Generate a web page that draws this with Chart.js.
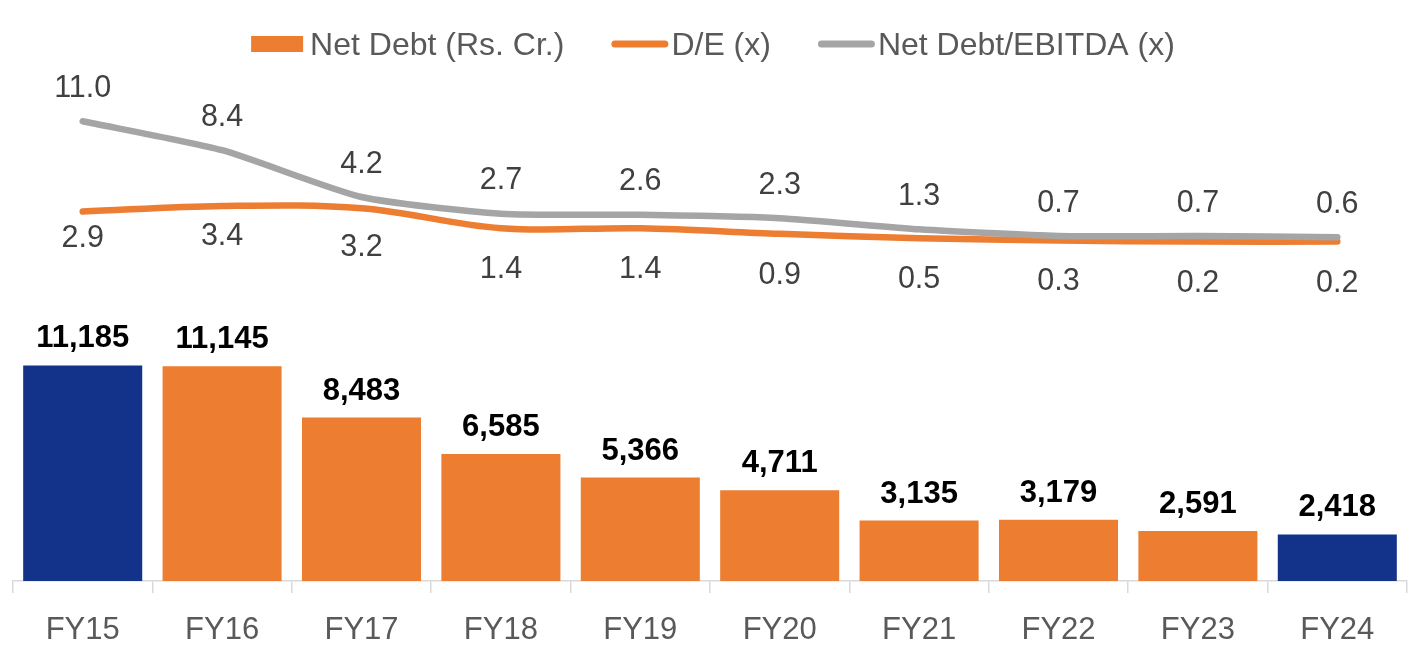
<!DOCTYPE html>
<html><head><meta charset="utf-8">
<script src="https://cdn.jsdelivr.net/npm/chart.js@4"></script>
<style>html,body{margin:0;padding:0;background:#fff}#wrap{width:1426px;height:663px;position:relative}</style>
</head><body><div id="wrap"><canvas id="c" width="1426" height="663"></canvas></div>
<script>
// ---- data ----
const categories = ['FY15','FY16','FY17','FY18','FY19','FY20','FY21','FY22','FY23','FY24'];
const netDebt = [11185, 11145, 8483, 6585, 5366, 4711, 3135, 3179, 2591, 2418];
const debtEquity = [2.9, 3.4, 3.2, 1.4, 1.4, 0.9, 0.5, 0.3, 0.2, 0.2];
const debtEbitda = [11.0, 8.4, 4.2, 2.7, 2.6, 2.3, 1.3, 0.7, 0.7, 0.6];
const seriesNames = ['Net Debt (Rs. Cr.)', 'D/E (x)', 'Net Debt/EBITDA (x)'];

// ---- styles ----
const NAVY = '#13338B', ORANGE = '#ED7D31', GRAY = '#A5A5A5';
const FONT = '"Liberation Sans", Arial, sans-serif';
const barColors = categories.map((c, i) => (i === 0 || i === categories.length - 1) ? NAVY : ORANGE);
const deLabelOffset = [35, 39, 48, 50, 50, 50, 50, 50, 50, 50]; // label baseline distance below point

const labelPlugin = {
  id: 'valueLabels',
  afterDatasetsDraw(chart) {
    const ctx = chart.ctx;
    ctx.save();
    ctx.textAlign = 'center';
    ctx.textBaseline = 'alphabetic';
    const mb = chart.getDatasetMeta(0);
    ctx.font = 'bold 31px ' + FONT;
    ctx.fillStyle = '#000000';
    mb.data.forEach((el, i) => {
      ctx.fillText(netDebt[i].toLocaleString('en-US'), el.x, el.y - 18);
    });
    ctx.font = '30.5px ' + FONT;
    ctx.fillStyle = '#404040';
    const md = chart.getDatasetMeta(1);
    md.data.forEach((el, i) => {
      ctx.fillText(debtEquity[i].toFixed(1), el.x, el.y + deLabelOffset[i]);
    });
    const me = chart.getDatasetMeta(2);
    me.data.forEach((el, i) => {
      ctx.fillText(debtEbitda[i].toFixed(1), el.x, el.y - 24.5);
    });
    ctx.restore();
  }
};

const legendPlugin = {
  id: 'customLegend',
  afterDraw(chart) {
    const ctx = chart.ctx;
    ctx.save();
    ctx.font = '32px ' + FONT;
    const items = [
      {type: 'rect', color: ORANGE, text: seriesNames[0], mw: 52, gap: 7},
      {type: 'line', color: ORANGE, text: seriesNames[1], mw: 57, gap: 3},
      {type: 'line', color: GRAY, text: seriesNames[2], mw: 57, gap: 3}
    ];
    const itemGap = 47;
    let total = 0;
    items.forEach((it, i) => { it.tw = ctx.measureText(it.text).width; total += it.mw + it.gap + it.tw + (i ? itemGap : 0); });
    let x = chart.width / 2 - total / 2;
    const cy = 44;
    items.forEach((it, i) => {
      if (i) x += itemGap;
      if (it.type === 'rect') {
        ctx.fillStyle = it.color;
        ctx.fillRect(x, cy - 8, it.mw, 16);
      } else {
        ctx.strokeStyle = it.color;
        ctx.lineWidth = 7;
        ctx.lineCap = 'round';
        ctx.beginPath();
        ctx.moveTo(x + 3.5, cy); ctx.lineTo(x + it.mw - 3.5, cy);
        ctx.stroke();
      }
      x += it.mw + it.gap;
      ctx.fillStyle = '#595959';
      ctx.textBaseline = 'alphabetic';
      ctx.textAlign = 'left';
      ctx.fillText(it.text, x, 54.5);
      x += it.tw;
    });
    ctx.restore();
  }
};

new Chart(document.getElementById('c'), {
  data: {
    labels: categories,
    datasets: [
      {type: 'bar', label: seriesNames[0], data: netDebt, backgroundColor: barColors, yAxisID: 'y', order: 2,
       barPercentage: 0.854, categoryPercentage: 1.0},
      {type: 'line', label: seriesNames[1], data: debtEquity, borderColor: ORANGE, backgroundColor: ORANGE, yAxisID: 'y2', order: 1,
       borderWidth: 6.5, pointRadius: 0, tension: 0.35, borderCapStyle: 'round', fill: false},
      {type: 'line', label: seriesNames[2], data: debtEbitda, borderColor: GRAY, backgroundColor: GRAY, yAxisID: 'y2', order: 0,
       borderWidth: 6.5, pointRadius: 0, tension: 0.2, borderCapStyle: 'round', fill: false}
    ]
  },
  options: {
    responsive: false,
    animation: false,
    layout: {padding: {top: 80, left: 13, right: 19, bottom: -5}},
    plugins: {legend: {display: false}, tooltip: {enabled: false}},
    scales: {
      x: {
        offset: true,
        grid: {offset: true, drawOnChartArea: false, drawTicks: true, tickLength: 12, color: '#D9D9D9', lineWidth: 1.5},
        border: {display: true, color: '#D9D9D9', width: 1.5},
        ticks: {color: '#595959', font: {family: FONT, size: 31, lineHeight: 1.0}, padding: 22, maxRotation: 0, autoSkip: false}
      },
      y: {display: false, min: 0, max: 26000},
      y2: {display: false, min: -30.25, max: 14.7, position: 'right'}
    }
  },
  plugins: [labelPlugin, legendPlugin]
});
</script>
</body></html>
